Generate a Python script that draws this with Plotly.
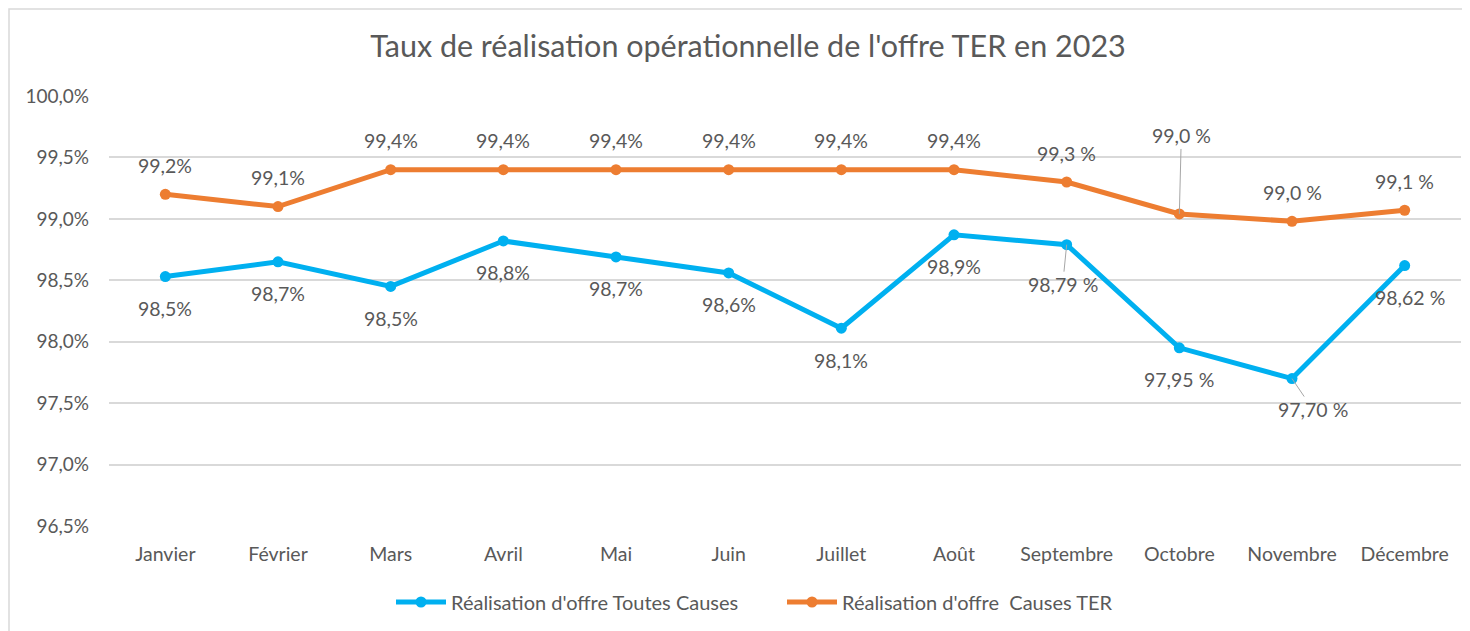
import plotly.graph_objects as go

months = ["Janvier", "Février", "Mars", "Avril", "Mai", "Juin", "Juillet",
          "Août", "Septembre", "Octobre", "Novembre", "Décembre"]
toutes_causes = [98.53, 98.65, 98.45, 98.82, 98.69, 98.56, 98.11, 98.87, 98.79, 97.95, 97.70, 98.62]
causes_ter = [99.20, 99.10, 99.40, 99.40, 99.40, 99.40, 99.40, 99.40, 99.30, 99.04, 98.98, 99.07]
labels_toutes = ["98,5%", "98,7%", "98,5%", "98,8%", "98,7%", "98,6%", "98,1%",
                 "98,9%", "98,79 %", "97,95 %", "97,70 %", "98,62 %"]
labels_ter = ["99,2%", "99,1%", "99,4%", "99,4%", "99,4%", "99,4%", "99,4%",
              "99,4%", "99,3 %", "99,0 %", "99,0 %", "99,1 %"]
ytick_vals = [96.5, 97.0, 97.5, 98.0, 98.5, 99.0, 99.5, 100.0]
ytick_text = ["96,5%", "97,0%", "97,5%", "98,0%", "98,5%", "99,0%", "99,5%", "100,0%"]

BLUE = "#00b0f0"
ORANGE = "#ed7d31"
TXT = "#595959"
FONT = "Lato, sans-serif"

fig = go.Figure()
fig.add_trace(go.Scatter(x=months, y=toutes_causes, mode="lines+markers",
                         name="Réalisation d'offre Toutes Causes",
                         line=dict(color=BLUE, width=5), marker=dict(size=11, color=BLUE)))
fig.add_trace(go.Scatter(x=months, y=causes_ter, mode="lines+markers",
                         name="Réalisation d'offre  Causes TER",
                         line=dict(color=ORANGE, width=5), marker=dict(size=11, color=ORANGE)))

annots = []
# label offsets (pixels): (dx, dy, leader line)
ter_off = {i: (0, -29, False) for i in range(12)}
ter_off[9] = (2, -78, True)
tc_off = {i: (0, 32, False) for i in range(12)}
tc_off[8] = (-4, 40, True)
tc_off[10] = (21, 31, True)
tc_off[11] = (5, 32, False)

LBL_SIZE = 19.5
for i, m in enumerate(months):
    for vals, labs, off in ((causes_ter, labels_ter, ter_off), (toutes_causes, labels_toutes, tc_off)):
        dx, dy, leader = off[i]
        if leader:
            annots.append(dict(x=m, y=vals[i], text=labs[i], showarrow=True, arrowhead=0,
                               arrowwidth=1, arrowcolor="#a6a6a6", ax=dx, ay=dy, standoff=0,
                               font=dict(family=FONT, size=LBL_SIZE, color=TXT)))
        else:
            annots.append(dict(x=m, y=vals[i], text=labs[i], showarrow=False,
                               xshift=dx, yshift=-dy,
                               font=dict(family=FONT, size=LBL_SIZE, color=TXT)))

W, H = 1470, 631
L, R, T, B = 101, 17, 88, 113
pw, ph = W - L - R, H - T - B
fig.add_shape(type="rect", xref="paper", yref="paper",
              x0=(1 - L) / pw, x1=1.05, y0=-0.4, y1=1 + (T - 1) / ph,
              line=dict(color="#d9d9d9", width=1.5), fillcolor="rgba(0,0,0,0)", layer="below")

fig.update_layout(
    width=W, height=H,
    margin=dict(l=L, r=R, t=T, b=B),
    paper_bgcolor="white", plot_bgcolor="white",
    title=dict(text="Taux de réalisation opérationnelle de l'offre TER en 2023",
               x=740 / W, xanchor="center", xref="container",
               y=1 - 38 / H, yanchor="middle", yref="container",
               font=dict(family=FONT, size=30.5, color=TXT)),
    annotations=annots,
    showlegend=True,
    legend=dict(orientation="h", x=(774 - L) / pw, xanchor="center",
                y=-(594 - (T + ph)) / ph, yanchor="middle",
                font=dict(family=FONT, size=20, color=TXT), itemwidth=50,
                entrywidth=326, traceorder="normal"),
    xaxis=dict(range=[-0.5, 11.5], showgrid=False, showline=False, zeroline=False, ticks="",
               tickfont=dict(family=FONT, size=19.5, color=TXT),
               ticklabelstandoff=14, fixedrange=True),
    yaxis=dict(range=[96.5, 100.0], tickvals=ytick_vals, ticktext=ytick_text,
               showgrid=True, gridcolor="#d9d9d9", gridwidth=1.5, zeroline=False,
               showline=False, ticks="",
               tickfont=dict(family=FONT, size=19, color=TXT),
               ticklabelstandoff=19, fixedrange=True),
)

fig.write_html("out.html")
